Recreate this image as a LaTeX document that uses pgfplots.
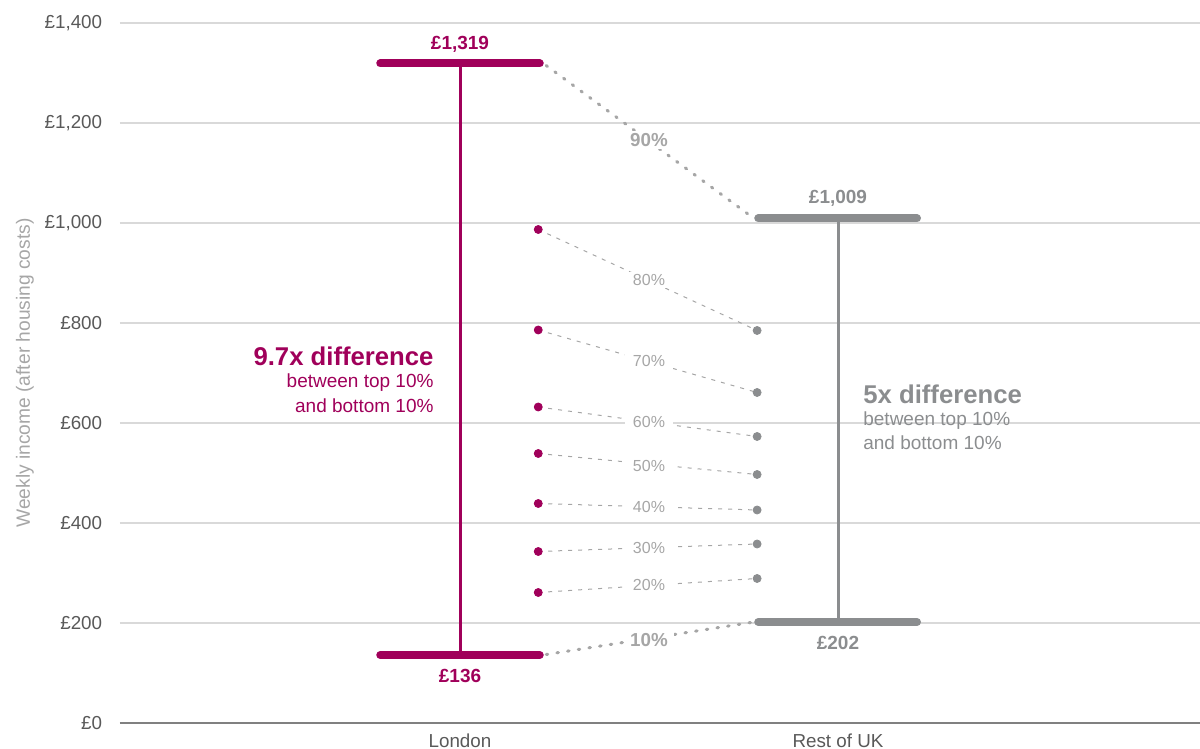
\documentclass[border=0pt]{standalone}
\usepackage{pgfplots}
\pgfplotsset{compat=1.18}
\usepackage{fontspec}
\setmainfont{Liberation Sans}
\definecolor{lon}{HTML}{A0005A}
\definecolor{ruk}{HTML}{8B8D8F}
\definecolor{pct}{HTML}{A6A6A6}
\definecolor{tickc}{HTML}{595959}
\definecolor{gridc}{HTML}{D9D9D9}
\begin{document}
\begin{tikzpicture}
\path[use as bounding box] (-60pt,-13pt) rectangle (540pt,361.5pt);
\begin{axis}[
  at={(0,0)}, anchor=south west,
  scale only axis, width=540pt, height=350pt,
  xmin=0.1005, xmax=2.9577, ymin=0, ymax=1400,
  axis x line*=bottom, axis y line*=left,
  y axis line style={draw=none},
  x axis line style={draw=black!50, line width=0.75pt},
  xtick={1,2}, xticklabels={London, Rest of UK},
  ytick={0,200,...,1400},
  yticklabels={£0,£200,£400,£600,£800,{£1,000},{£1,200},{£1,400}},
  major tick length=0pt,
  tick style={draw=none},
  ymajorgrids, grid style={draw=gridc, line width=0.6pt},
  ticklabel style={font=\fontsize{9.4}{11}\selectfont, text=tickc},
  yticklabel style={xshift=-5.4pt},
  xticklabel style={yshift=-2pt},
  ylabel={Weekly income (after housing costs)},
  ylabel style={font=\fontsize{9.6}{11}\selectfont, text=pct, at={(axis description cs:-0.088,0.5)}, anchor=center},
  clip=false,
]
% connectors (dashed, thin)
\addplot[pct, line width=0.5pt, dash pattern=on 2pt off 3pt] coordinates {(1.207,987) (1.786,785)};
\addplot[pct, line width=0.5pt, dash pattern=on 2pt off 3pt] coordinates {(1.207,786) (1.786,661)};
\addplot[pct, line width=0.5pt, dash pattern=on 2pt off 3pt] coordinates {(1.207,632) (1.786,573)};
\addplot[pct, line width=0.5pt, dash pattern=on 2pt off 3pt] coordinates {(1.207,539) (1.786,497)};
\addplot[pct, line width=0.5pt, dash pattern=on 2pt off 3pt] coordinates {(1.207,439) (1.786,426)};
\addplot[pct, line width=0.5pt, dash pattern=on 2pt off 3pt] coordinates {(1.207,343) (1.786,358)};
\addplot[pct, line width=0.5pt, dash pattern=on 2pt off 3pt] coordinates {(1.207,261) (1.786,289)};
% 90% and 10% connectors (dotted, thick)
\addplot[pct, line width=1.5pt, line cap=round, dash pattern=on 0.8pt off 4.6pt] coordinates {(1.228,1315) (1.778,1009)};
\addplot[pct, line width=1.5pt, line cap=round, dash pattern=on 0.8pt off 4.6pt] coordinates {(1.228,137) (1.778,202)};
% London range
\addplot[lon, line width=1.5pt] coordinates {(1,136) (1,1319)};
\addplot[lon, line width=4pt, line cap=round] coordinates {(0.789,1319) (1.211,1319)};
\addplot[lon, line width=4pt, line cap=round] coordinates {(0.789,136) (1.211,136)};
% Rest of UK range
\addplot[ruk, line width=1.5pt] coordinates {(2,202) (2,1009)};
\addplot[ruk, line width=4pt, line cap=round] coordinates {(1.789,1009) (2.209,1009)};
\addplot[ruk, line width=4pt, line cap=round] coordinates {(1.789,202) (2.209,202)};
% deciles
\addplot[only marks, mark=*, mark size=2pt, lon, mark options={draw=lon, fill=lon}] coordinates {(1.207,987) (1.207,786) (1.207,632) (1.207,539) (1.207,439) (1.207,343) (1.207,261)};
\addplot[only marks, mark=*, mark size=2pt, ruk, mark options={draw=ruk, fill=ruk}] coordinates {(1.786,785) (1.786,661) (1.786,573) (1.786,497) (1.786,426) (1.786,358) (1.786,289)};
% percent labels
\begin{scope}[every node/.style={fill=white, inner xsep=4pt, inner ysep=1.2pt, text=pct, font=\fontsize{8}{9}\selectfont}]
\node at (axis cs:1.5,886) {80\%};
\node at (axis cs:1.5,724) {70\%};
\node at (axis cs:1.5,601) {60\%};
\node at (axis cs:1.5,514) {50\%};
\node at (axis cs:1.5,433) {40\%};
\node at (axis cs:1.5,351) {30\%};
\node at (axis cs:1.5,277) {20\%};
\end{scope}
\node[fill=white, inner xsep=3pt, inner ysep=1pt, text=pct, font=\fontsize{9.4}{11}\selectfont\bfseries] at (axis cs:1.5,1166) {90\%};
\node[fill=white, inner xsep=3pt, inner ysep=1pt, text=pct, font=\fontsize{9.4}{11}\selectfont\bfseries] at (axis cs:1.5,166) {10\%};
% value labels
\node[text=lon, font=\fontsize{9.5}{11}\selectfont\bfseries] at (axis cs:1,1358) {£1,319};
\node[text=lon, font=\fontsize{9.5}{11}\selectfont\bfseries] at (axis cs:1,94) {£136};
\node[text=ruk, font=\fontsize{9.5}{11}\selectfont\bfseries] at (axis cs:2,1050) {£1,009};
\node[text=ruk, font=\fontsize{9.5}{11}\selectfont\bfseries] at (axis cs:2,160) {£202};
% annotations
\node[text=lon, anchor=east, inner sep=0pt, font=\fontsize{12.85}{14}\selectfont\bfseries] at (axis cs:0.931,734) {9.7x difference};
\node[text=lon, anchor=east, inner sep=0pt, font=\fontsize{9.5}{11}\selectfont] at (axis cs:0.931,680) {between top 10\%};
\node[text=lon, anchor=east, inner sep=0pt, font=\fontsize{9.5}{11}\selectfont] at (axis cs:0.931,634) {and bottom 10\%};
\node[text=ruk, anchor=west, inner sep=0pt, font=\fontsize{12.85}{14}\selectfont\bfseries] at (axis cs:2.066,658) {5x difference};
\node[text=ruk, anchor=west, inner sep=0pt, font=\fontsize{9.5}{11}\selectfont] at (axis cs:2.066,604) {between top 10\%};
\node[text=ruk, anchor=west, inner sep=0pt, font=\fontsize{9.5}{11}\selectfont] at (axis cs:2.066,560) {and bottom 10\%};
\end{axis}
\end{tikzpicture}
\end{document}
